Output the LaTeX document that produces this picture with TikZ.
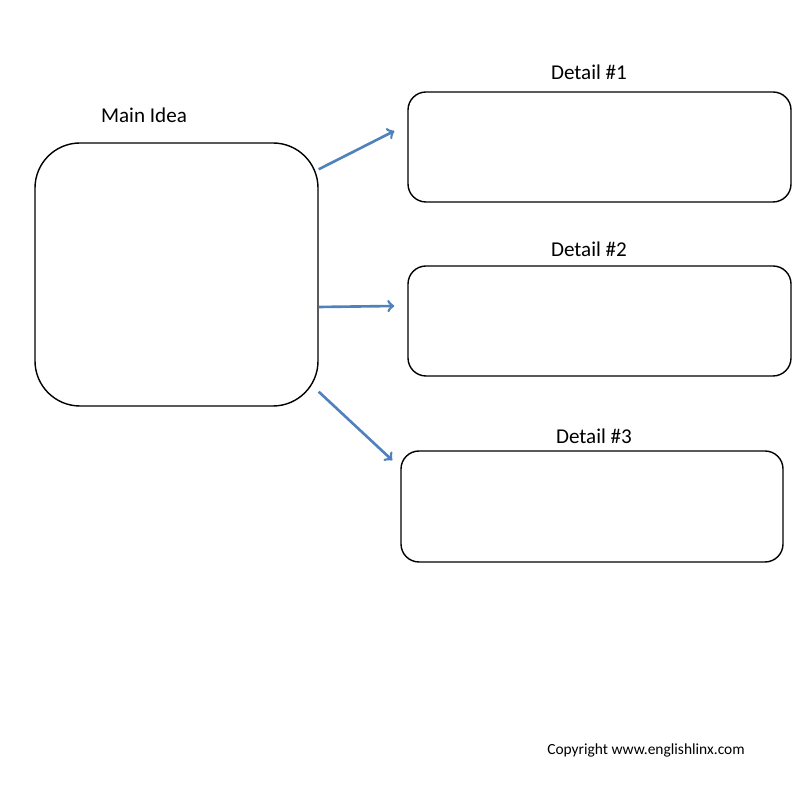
\documentclass[tikz,border=0pt]{standalone}
\usepackage{fontspec}
\setmainfont{Carlito}
\usepackage{tikz}
\usetikzlibrary{arrows}

\definecolor{arrowblue}{RGB}{79,129,189}

\begin{document}
\begin{tikzpicture}[thick,main box/.style={draw,rounded corners=0.9cm,minimum width=5.66cm,minimum height=5.26cm,line width=0.8pt},detail box/.style={draw,rounded corners=0.36cm,minimum width=7.66cm,minimum height=2.2cm,line width=0.8pt},link/.style={->,>=to,draw=arrowblue,line width=1.5pt,scale=1},every node/.style={font=\fontsize{12}{14}\selectfont}]
    \useasboundingbox (0,0) rectangle (16,16);
    \node[main box] (main) at (3.53,10.51) {};
    \node[detail box] (d1) at (11.99,13.06) {};
    \node[detail box] (d2) at (11.99,9.58) {};
    \node[detail box,minimum width=7.64cm,minimum height=2.22cm] (d3) at (11.84,5.87) {};

    \node (mainlabel) at (2.88,13.7) {Main Idea};
    \node (d1label) at (11.78,14.56) {Detail \#1};
    \node (d2label) at (11.78,11.02) {Detail \#2};
    \node (d3label) at (11.88,7.28) {Detail \#3};
    \node[font=\fontsize{8.8}{10}\selectfont] (copy) at (12.92,1.0) {Copyright www.englishlinx.com};

    \draw[link] ([yshift=-0.54cm]main.north east) -- ([xshift=-0.26cm,yshift=0.32cm]d1.west);
    \draw[link] ([yshift=-0.65cm]main.east) -- ([xshift=-0.26cm,yshift=0.3cm]d2.west);
    \draw[link] ([yshift=0.3cm]main.south east) -- ([xshift=-0.16cm,yshift=-0.2cm]d3.north west);
  \end{tikzpicture}
\end{document}
